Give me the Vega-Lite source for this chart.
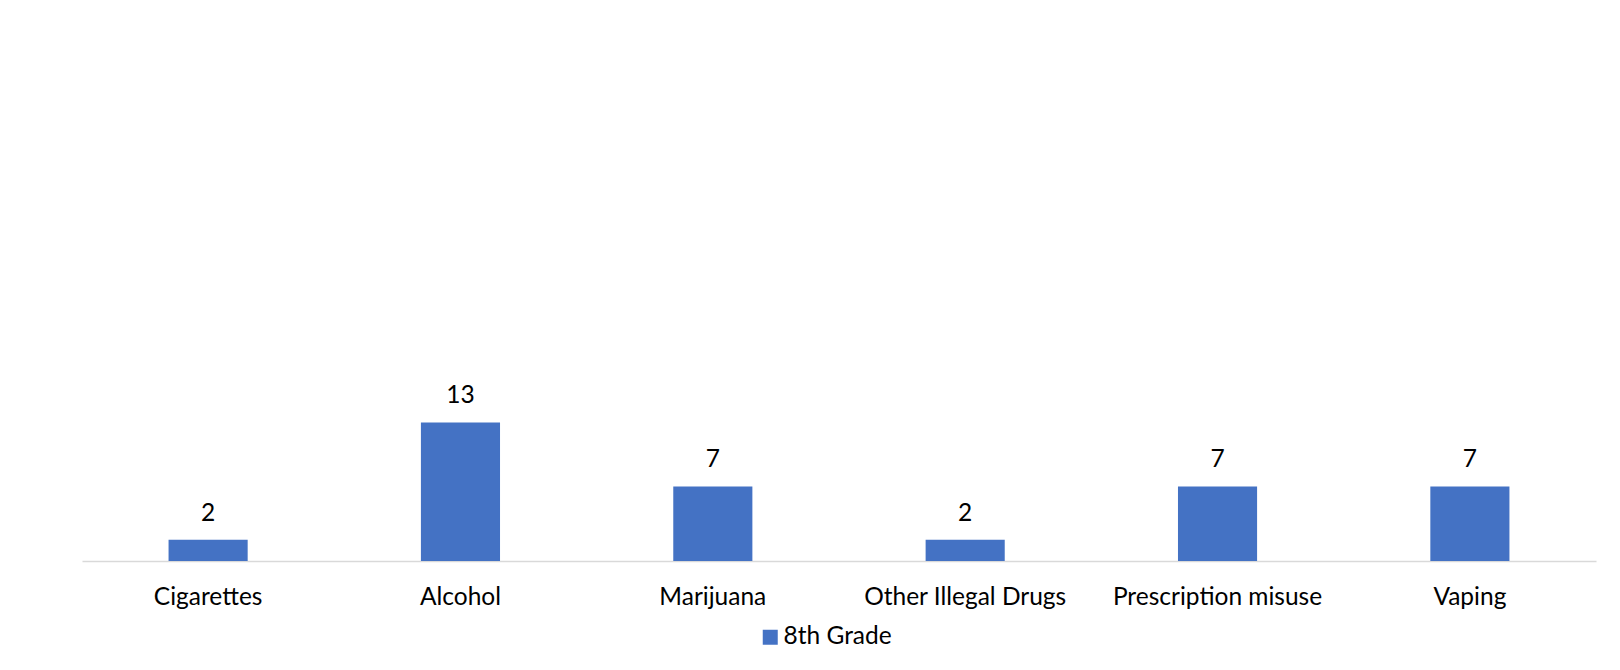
{
  "$schema": "https://vega.github.io/schema/vega-lite/v6.json",
  "autosize": {"type": "none"},
  "width": 1514,
  "height": 533,
  "padding": {"left": 82, "top": 28, "right": 24, "bottom": 109},
  "background": "white",
  "config": {
    "view": {"stroke": null},
    "font": "Lato",
    "text": {"font": "Lato"}
  },
  "data": {
    "values": [
      {"category": "Cigarettes", "grade": "8th Grade", "value": 2},
      {"category": "Alcohol", "grade": "8th Grade", "value": 13},
      {"category": "Marijuana", "grade": "8th Grade", "value": 7},
      {"category": "Other Illegal Drugs", "grade": "8th Grade", "value": 2},
      {"category": "Prescription misuse", "grade": "8th Grade", "value": 7},
      {"category": "Vaping", "grade": "8th Grade", "value": 7}
    ]
  },
  "encoding": {
    "x": {
      "field": "category",
      "type": "nominal",
      "sort": null,
      "scale": {"paddingInner": 0.6865, "paddingOuter": 0.343},
      "axis": {
        "title": null,
        "labelAngle": 0,
        "ticks": false,
        "labelFont": "Lato",
        "labelFontSize": 24.5,
        "labelColor": "#000000",
        "labelLimit": 0,
        "labelPadding": 24,
        "domainColor": "#d9d9d9",
        "domainWidth": 1.5,
        "grid": false
      }
    },
    "y": {
      "field": "value",
      "type": "quantitative",
      "scale": {"domain": [0, 50]},
      "axis": null
    }
  },
  "layer": [
    {
      "mark": {"type": "bar", "color": "#4472C4"},
      "encoding": {
        "color": {
          "field": "grade",
          "type": "nominal",
          "scale": {"range": ["#4472C4"]},
          "legend": {
            "title": null,
            "orient": "none",
            "legendX": 676,
            "legendY": 597,
            "direction": "horizontal",
            "symbolType": "square",
            "symbolSize": 225,
            "symbolStrokeWidth": 0,
            "labelFont": "Lato",
            "labelFontSize": 24.5,
            "labelColor": "#000000",
            "labelOffset": 1,
            "padding": 0
          }
        }
      }
    },
    {
      "mark": {"type": "text", "baseline": "alphabetic", "dy": -19, "font": "Lato", "fontSize": 24.5, "color": "#000000"},
      "encoding": {"text": {"field": "value", "type": "quantitative"}}
    }
  ]
}
